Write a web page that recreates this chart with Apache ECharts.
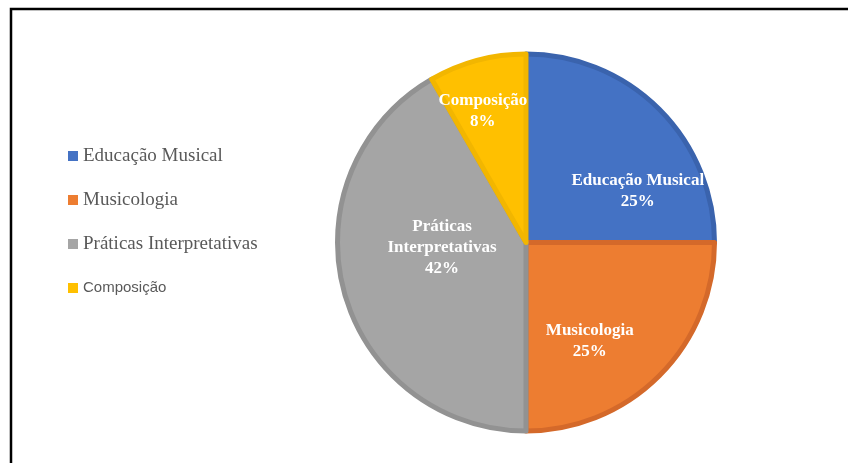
<!DOCTYPE html>
<html>
<head>
<meta charset="utf-8">
<script src="https://cdn.jsdelivr.net/npm/echarts@6/dist/echarts.min.js"></script>
<style>
html,body{margin:0;padding:0;background:#fff;}
#c{width:848px;height:463px;}
</style>
</head>
<body>
<div id="c"></div>
<script>
const categories = ['Educação Musical', 'Musicologia', 'Práticas Interpretativas', 'Composição'];
const values = [3, 3, 5, 1];

const colors = ['#4472C4', '#ED7D31', '#A5A5A5', '#FFC000'];
const borderColors = ['#3A63AD', '#D4692A', '#929292', '#F2B600'];
const labelOffsets = [[43, 17], [-5, 30], [10, -20], [-18, -37]];
const legendFonts = ['Liberation Serif', 'Liberation Serif', 'Liberation Serif', 'Liberation Sans'];
const legendSizes = [19, 19, 19, 15];

const chart = echarts.init(document.getElementById('c'), null, {renderer: 'canvas'});
const data = categories.map((name, i) => ({
  name: name,
  value: values[i],
  itemStyle: {color: colors[i], borderColor: borderColors[i], borderWidth: 5},
  label: {offset: labelOffsets[i]}
}));

chart.setOption({
  animation: false,
  graphic: [{
    type: 'rect',
    shape: {x: 11, y: 9, width: 900, height: 600},
    style: {fill: 'none', stroke: '#000', lineWidth: 2.5}
  }],
  legend: {
    orient: 'vertical',
    left: 63,
    top: 141,
    itemWidth: 10,
    itemHeight: 10,
    itemGap: 24,
    icon: 'rect',
    itemStyle: {borderWidth: 0},
    data: categories.map((n, i) => ({
      name: n,
      textStyle: {fontFamily: legendFonts[i], fontSize: legendSizes[i], color: '#595959', lineHeight: 20}
    })),
    textStyle: {color: '#595959'}
  },
  series: [{
    type: 'pie',
    center: [526, 242.5],
    radius: [0, 188.5],
    startAngle: 90,
    clockwise: true,
    data: data,
    label: {
      show: true,
      position: 'inside',
      formatter: function (p) {
        const n = p.name === 'Práticas Interpretativas' ? 'Práticas\nInterpretativas' : p.name;
        return n + '\n' + Math.round(p.percent) + '%';
      },
      color: '#fff',
      fontFamily: 'Liberation Serif',
      fontWeight: 'bold',
      fontSize: 17,
      lineHeight: 21,
      align: 'center'
    },
    labelLine: {show: false},
    emphasis: {disabled: true}
  }]
});
</script>
</body>
</html>
